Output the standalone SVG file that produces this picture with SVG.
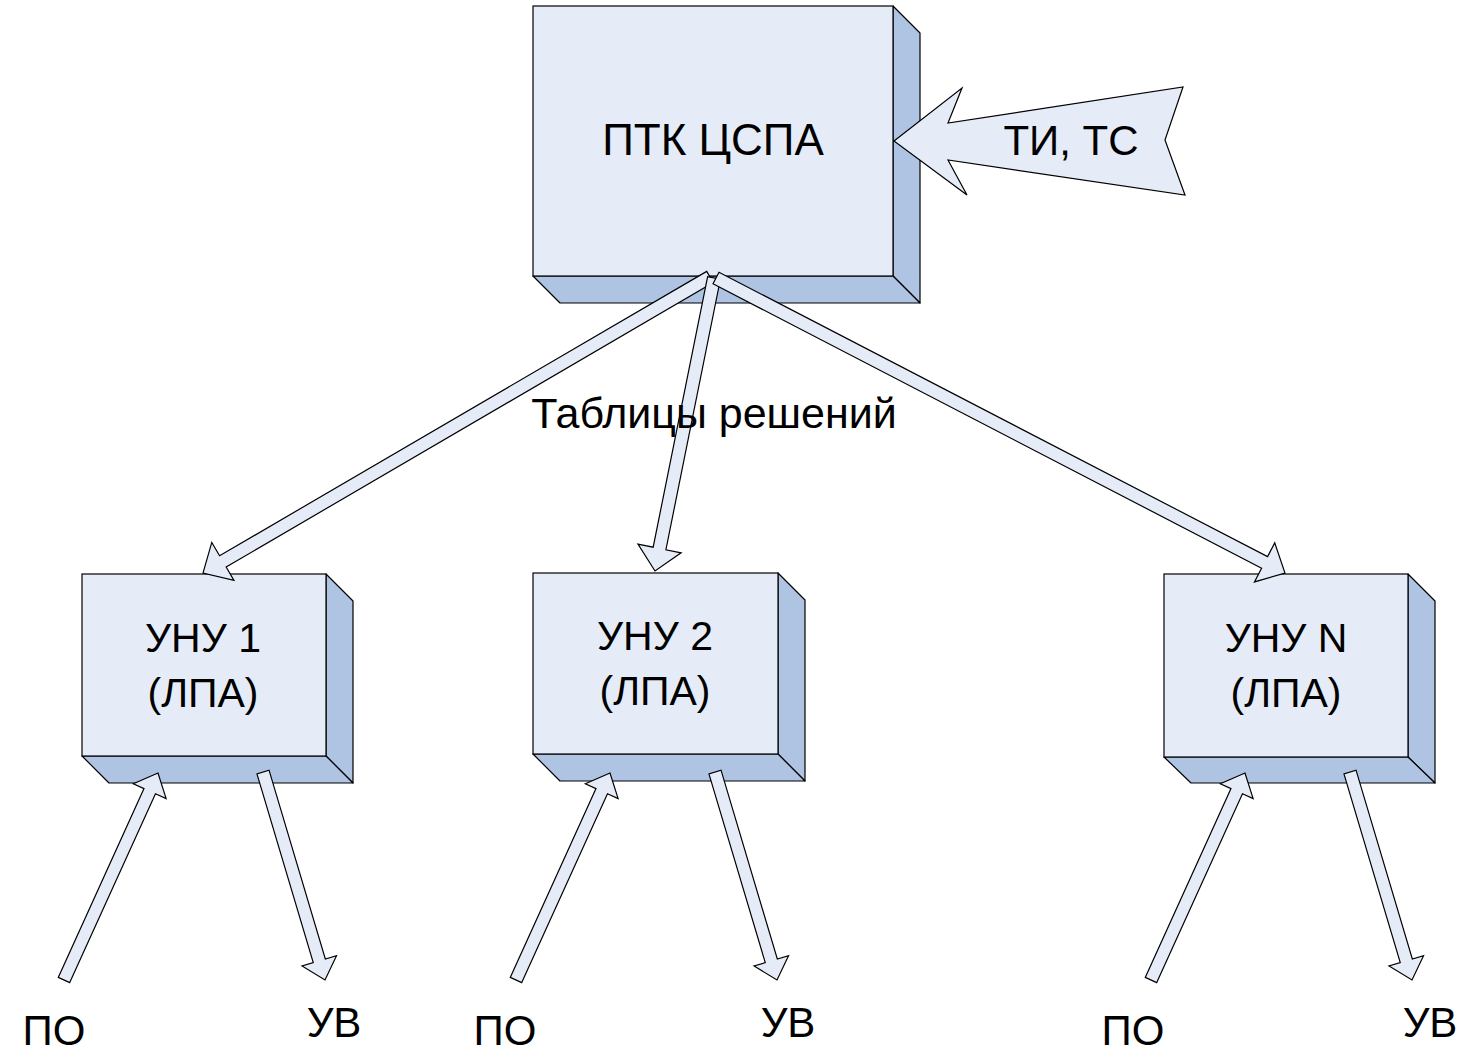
<svg xmlns="http://www.w3.org/2000/svg" width="1462" height="1054" viewBox="0 0 1462 1054">
<style>
.front{fill:#E6ECF7;stroke:#000;stroke-width:1.2}
.side{fill:#AFC3E3;stroke:#000;stroke-width:1.2;stroke-linejoin:round}
.arr{fill:#E6ECF7;stroke:#000;stroke-width:1.2;stroke-linejoin:miter}
.t{font-family:"Liberation Sans",Arial,sans-serif;fill:#000;text-anchor:middle}
</style>
<rect width="1462" height="1054" fill="#fff"/>
<g id="ptk">
<polygon class="side" points="893,6 920,33 920,303 893,276"/>
<polygon class="side" points="533,276 893,276 920,303 560,303"/>
<rect class="front" x="533" y="6" width="360" height="270"/>
<text class="t" x="713" y="155" font-size="44">ПТК ЦСПА</text>
</g>
<g id="uny1">
<polygon class="side" points="326,574 353,601 353,783 326,756"/>
<polygon class="side" points="82,756 326,756 353,783 109,783"/>
<rect class="front" x="82" y="574" width="244" height="182"/>
<text class="t" x="203" y="652" font-size="41">УНУ 1</text>
<text class="t" x="203" y="707" font-size="41">(ЛПА)</text>
</g>
<g id="uny2">
<polygon class="side" points="778,573 805,600 805,781 778,754"/>
<polygon class="side" points="533,754 778,754 805,781 560,781"/>
<rect class="front" x="533" y="573" width="245" height="181"/>
<text class="t" x="655" y="650" font-size="41">УНУ 2</text>
<text class="t" x="655" y="705" font-size="41">(ЛПА)</text>
</g>
<g id="unyN">
<polygon class="side" points="1408,574 1435,601 1435,783 1408,757"/>
<polygon class="side" points="1164,757 1408,757 1435,783 1191,783"/>
<rect class="front" x="1164" y="574" width="244" height="183"/>
<text class="t" x="1286" y="652" font-size="41">УНУ N</text>
<text class="t" x="1286" y="707" font-size="41">(ЛПА)</text>
</g>
<g id="connectors">
<polygon class="arr" points="706.72,271.39 219.58,555.79 211.77,542.40 203,573 233.95,580.40 226.14,567.01 713.28,282.61"/>
<polygon class="arr" points="707.63,276.72 653.17,547.17 637.97,544.11 655,571 681.11,552.79 665.91,549.73 720.37,279.28"/>
<polygon class="arr" points="713.01,283.77 1261.59,568.18 1254.45,581.94 1285,573 1274.71,542.88 1267.57,556.64 718.99,272.23"/>
<g id="io1">
<polygon class="arr" points="69.74,982.61 155.47,793.82 166.12,798.65 158,773 133.34,783.77 143.99,788.60 58.26,977.39"/>
<polygon class="arr" points="256.96,773.80 313.25,962.63 302.04,965.97 325,980 336.54,955.69 325.33,959.03 269.04,770.20"/>
</g>
<g transform="translate(452,0)">
<polygon class="arr" points="69.74,982.61 155.47,793.82 166.12,798.65 158,773 133.34,783.77 143.99,788.60 58.26,977.39"/>
<polygon class="arr" points="256.96,773.80 313.25,962.63 302.04,965.97 325,980 336.54,955.69 325.33,959.03 269.04,770.20"/>
</g>
<g transform="translate(1087,0)">
<polygon class="arr" points="69.74,982.61 155.47,793.82 166.12,798.65 158,773 133.34,783.77 143.99,788.60 58.26,977.39"/>
<polygon class="arr" points="256.96,773.80 313.25,962.63 302.04,965.97 325,980 336.54,955.69 325.33,959.03 269.04,770.20"/>
</g>
</g>
<g id="ti">
<polygon class="arr" points="894,141 962,88 948,123 1183,87 1165,140 1185,195 948,160 967,195"/>
<text class="t" x="1071" y="155" font-size="42">ТИ, ТС</text>
</g>
<g id="labels">
<text class="t" x="714" y="428" font-size="43">Таблицы решений</text>
<text class="t" x="54" y="1045" font-size="42">ПО</text>
<text class="t" x="334" y="1037" font-size="42">УВ</text>
<text class="t" x="505" y="1045" font-size="42">ПО</text>
<text class="t" x="788" y="1037" font-size="42">УВ</text>
<text class="t" x="1133" y="1045" font-size="42">ПО</text>
<text class="t" x="1430" y="1037" font-size="42">УВ</text>
</g>
</svg>
